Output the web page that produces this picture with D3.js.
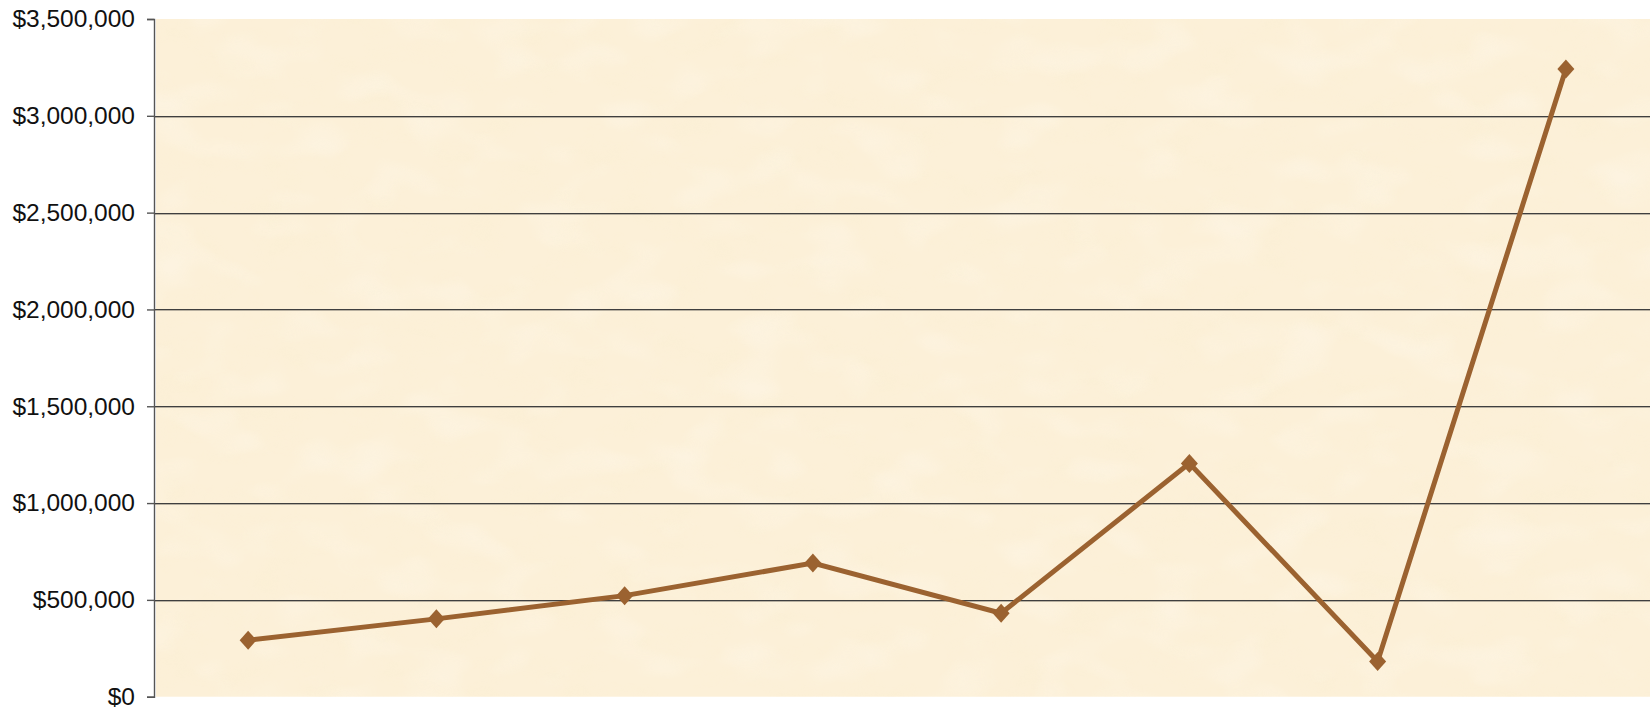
<!DOCTYPE html>
<html>
<head>
<meta charset="utf-8">
<script src="https://cdn.jsdelivr.net/npm/d3@7"></script>
<style>
  html, body { margin: 0; padding: 0; background: #ffffff; }
  svg { display: block; }
</style>
</head>
<body>
<svg id="chart" width="1650" height="710"></svg>
<script>
// ---- data ----
const categories = ["P1", "P2", "P3", "P4", "P5", "P6", "P7", "P8"];
const values = [292000, 402000, 522000, 690000, 431000, 1205000, 182000, 3242000];
const tickValues = [0, 500000, 1000000, 1500000, 2000000, 2500000, 3000000, 3500000];

// ---- layout ----
const W = 1650, H = 710;
const plotLeft = 154, plotRight = 1660, plotTop = 19, plotBottom = 696.7;

const svg = d3.select("#chart");

const defs = svg.append("defs");
const filt = defs.append("filter").attr("id", "parch")
  .attr("x", 0).attr("y", 0).attr("width", 1).attr("height", 1);
filt.append("feTurbulence").attr("type", "fractalNoise")
  .attr("baseFrequency", "0.02 0.035").attr("numOctaves", 3).attr("seed", 7).attr("result", "noise");
filt.append("feColorMatrix").attr("in", "noise").attr("type", "matrix")
  .attr("values", "0 0 0 0 0.96  0 0 0 0 0.86  0 0 0 0 0.64  1.6 0 0 0 -0.75")
  .attr("result", "tint");
filt.append("feComposite").attr("in", "tint").attr("in2", "SourceGraphic").attr("operator", "in");

const filt2 = defs.append("filter").attr("id", "parch2")
  .attr("x", 0).attr("y", 0).attr("width", 1).attr("height", 1);
filt2.append("feTurbulence").attr("type", "fractalNoise")
  .attr("baseFrequency", "0.015 0.025").attr("numOctaves", 2).attr("seed", 21).attr("result", "noise");
filt2.append("feColorMatrix").attr("in", "noise").attr("type", "matrix")
  .attr("values", "0 0 0 0 1  0 0 0 0 0.97  0 0 0 0 0.92  1.6 0 0 0 -0.8")
  .attr("result", "tint");
filt2.append("feComposite").attr("in", "tint").attr("in2", "SourceGraphic").attr("operator", "in");

const x = d3.scaleBand().domain(categories).range([plotLeft, plotRight]);
const y = d3.scaleLinear().domain([0, 3500000]).range([plotBottom, plotTop]);

// background
const bgAttrs = sel => sel
  .attr("x", plotLeft + 2).attr("y", plotTop)
  .attr("width", plotRight - plotLeft).attr("height", plotBottom - plotTop);
svg.append("rect").call(bgAttrs).attr("fill", "#fcf0d8");
svg.append("rect").call(bgAttrs).attr("fill", "#fcf0d8").attr("filter", "url(#parch)").attr("opacity", 0.5);
svg.append("rect").call(bgAttrs).attr("fill", "#fcf0d8").attr("filter", "url(#parch2)").attr("opacity", 0.5);

// gridlines
const grid = svg.append("g");
tickValues.filter(v => v > 0 && v < 3500000).forEach(v => {
  grid.append("line")
    .attr("x1", plotLeft).attr("x2", W)
    .attr("y1", Math.round(y(v)) + 1.5).attr("y2", Math.round(y(v)) + 1.5)
    .attr("stroke", "#b8b0a0").attr("stroke-width", 1);
  grid.append("line")
    .attr("x1", plotLeft).attr("x2", W)
    .attr("y1", Math.round(y(v)) + 0.5).attr("y2", Math.round(y(v)) + 0.5)
    .attr("stroke", "#3f3f3f").attr("stroke-width", 1.2);
});

// y axis
const fmt = v => "$" + d3.format(",")(v);
const yAxis = d3.axisLeft(y).tickValues(tickValues).tickFormat(fmt).tickSize(7).tickPadding(12);
const ag = svg.append("g").attr("transform", `translate(${plotLeft},0)`).call(yAxis);
ag.select(".domain").attr("stroke", "#555").attr("stroke-width", 1.4);
ag.selectAll(".tick line").attr("stroke", "#555").attr("stroke-width", 1.4);
ag.selectAll(".tick text")
  .attr("fill", "#111")
  .style("font-family", "'Liberation Sans', Arial, sans-serif")
  .style("font-size", "24.5px");

// line
const color = "#9b6230";
const line = d3.line()
  .x((d, i) => x(categories[i]) + x.bandwidth() / 2)
  .y(d => y(d));
svg.append("path")
  .datum(values)
  .attr("d", line)
  .attr("fill", "none")
  .attr("stroke", color)
  .attr("stroke-width", 5)
  .attr("stroke-linejoin", "miter");

// diamond markers
svg.append("g").selectAll("path")
  .data(values)
  .join("path")
  .attr("transform", (d, i) => `translate(${x(categories[i]) + x.bandwidth() / 2},${y(d)})`)
  .attr("d", "M0,-9.5 L8.5,0 L0,9.5 L-8.5,0 Z")
  .attr("fill", color);
</script>
</body>
</html>
